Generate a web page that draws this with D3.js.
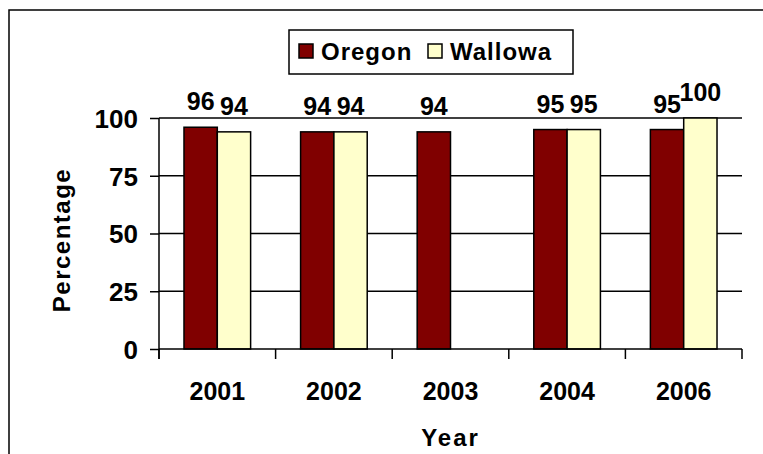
<!DOCTYPE html>
<html>
<head>
<meta charset="utf-8">
<script src="https://cdn.jsdelivr.net/npm/d3@7"></script>
<style>
  html, body { margin: 0; padding: 0; background: #fff; }
  svg { display: block; font-family: "Liberation Sans", Arial, sans-serif; font-weight: bold; }
</style>
</head>
<body>
<svg id="chart" width="763" height="454"></svg>
<script>
const years = ["2001", "2002", "2003", "2004", "2006"];
const seriesNames = ["Oregon", "Wallowa"];
const oregon = [96, 94, 94, 95, 95];
const wallowa = [94, 94, null, 95, 100];
const yTicks = [0, 25, 50, 75, 100];
const colors = ["#800000", "#FFFFCC"];

(function () {
const svg = d3.select("#chart");
const pLeft = 159, pRight = 742, pTop = 118, pBottom = 349;

// outer frame
svg.append("rect").attr("x", 9).attr("y", 10).attr("width", 800).attr("height", 500)
  .attr("fill", "none").attr("stroke", "#000").attr("stroke-width", 1.5);

const x = d3.scaleBand().domain(years).range([pLeft, pRight]).paddingInner(0).paddingOuter(0);
const y = d3.scaleLinear().domain([0, 100]).range([pBottom, pTop]);
const barW = x.bandwidth() / 3.5;
const xs = d3.scaleBand().domain(seriesNames).range([0, barW * 2]);

// gridlines
svg.append("g").selectAll("line").data(yTicks.filter(t => t > 0)).join("line")
  .attr("x1", pLeft).attr("x2", pRight)
  .attr("y1", d => y(d)).attr("y2", d => y(d))
  .attr("stroke", "#000").attr("stroke-width", 1.5);

// bars
const data = years.map((yr, i) => ({ yr, vals: [oregon[i], wallowa[i]] }));
const groups = svg.append("g").selectAll("g").data(data).join("g")
  .attr("transform", d => `translate(${x(d.yr) + (x.bandwidth() - barW * 2) / 2},0)`);
const items = d => d.vals.map((v, j) => ({ v, s: seriesNames[j], j })).filter(e => e.v != null);
groups.selectAll("rect").data(items).join("rect")
  .attr("x", e => xs(e.s)).attr("width", barW)
  .attr("y", e => y(e.v)).attr("height", e => y(0) - y(e.v))
  .attr("fill", e => colors[e.j]).attr("stroke", "#000").attr("stroke-width", 1.5);
groups.selectAll("text").data(items).join("text")
  .attr("x", e => xs(e.s) + barW / 2).attr("y", e => y(e.v) - 17)
  .attr("text-anchor", "middle").attr("font-size", 25).attr("fill", "#000")
  .text(e => e.v);

// y axis
const yAxis = svg.append("g").attr("transform", `translate(${pLeft},0)`)
  .call(d3.axisLeft(y).tickValues(yTicks).tickSize(9).tickPadding(12));
yAxis.select(".domain").remove();
yAxis.selectAll(".tick line").attr("stroke", "#000").attr("stroke-width", 1.5);
yAxis.selectAll(".tick text").attr("font-size", 26).attr("font-family", "Liberation Sans, Arial, sans-serif")
  .attr("font-weight", "bold").attr("fill", "#000").attr("dy", "0.36em");
svg.append("line").attr("x1", pLeft).attr("x2", pLeft).attr("y1", pTop).attr("y2", pBottom + 10)
  .attr("stroke", "#000").attr("stroke-width", 1.5);

// x axis
svg.append("line").attr("x1", pLeft).attr("x2", pRight).attr("y1", pBottom).attr("y2", pBottom)
  .attr("stroke", "#000").attr("stroke-width", 1.5);
const bounds = years.map(d => x(d)).concat([pRight]);
svg.append("g").selectAll("line").data(bounds).join("line")
  .attr("x1", d => d).attr("x2", d => d).attr("y1", pBottom).attr("y2", pBottom + 10)
  .attr("stroke", "#000").attr("stroke-width", 1.5);
svg.append("g").selectAll("text").data(years).join("text")
  .attr("x", d => x(d) + x.bandwidth() / 2).attr("y", 400)
  .attr("text-anchor", "middle").attr("font-size", 25).attr("fill", "#000")
  .text(d => d);

// axis titles
svg.append("text").attr("x", (pLeft + pRight) / 2).attr("y", 446)
  .attr("text-anchor", "middle").attr("font-size", 24).attr("letter-spacing", 2)
  .text("Year");
svg.append("text").attr("transform", `translate(70,240) rotate(-90)`)
  .attr("text-anchor", "middle").attr("font-size", 24).attr("letter-spacing", 1.5)
  .text("Percentage");

// legend
const lg = svg.append("g");
lg.append("rect").attr("x", 289).attr("y", 30).attr("width", 284).attr("height", 44)
  .attr("fill", "#fff").attr("stroke", "#000").attr("stroke-width", 1.5);
const legX = [299, 428];
seriesNames.forEach((n, i) => {
  lg.append("rect").attr("x", legX[i]).attr("y", 44).attr("width", 14).attr("height", 14)
    .attr("fill", colors[i]).attr("stroke", "#000").attr("stroke-width", 1.5);
  lg.append("text").attr("x", legX[i] + 22).attr("y", 60).attr("font-size", 24)
    .attr("letter-spacing", 1).text(n);
});
})();
</script>
</body>
</html>
